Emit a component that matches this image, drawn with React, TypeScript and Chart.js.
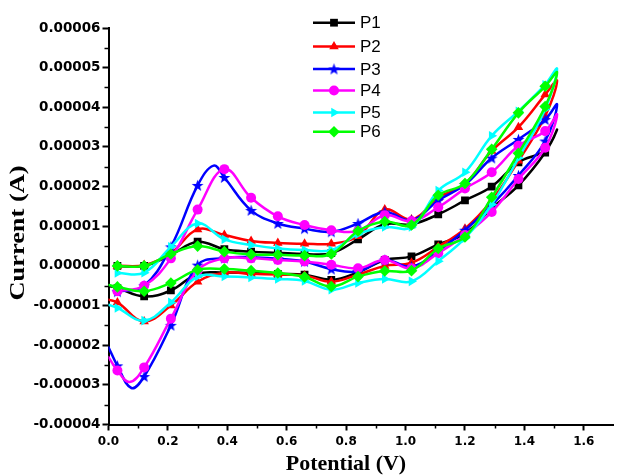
import React, { useEffect, useRef } from 'react';
import { Chart, registerables } from 'chart.js';

Chart.register(...registerables);

// ---------- data (current values in units of 1e-5 A) ----------
const UNIT = 1e-5;
const SERIES_NAMES = ['P1', 'P2', 'P3', 'P4', 'P5', 'P6'];
const COLORS = ['#000000', '#ff0000', '#0000ff', '#ff00ff', '#00ffff', '#00ff00'];

// potentials (V) where the markers sit, shared by every curve
const MARK_X = [0.03, 0.12, 0.21, 0.30, 0.39, 0.48, 0.57, 0.66, 0.75, 0.84, 0.93, 1.02, 1.11, 1.20, 1.29, 1.38, 1.47];
const START_X = 0.0;
const END_X = 1.51;

const X_TICKS = [0, 0.2, 0.4, 0.6, 0.8, 1.0, 1.2, 1.4, 1.6];
const X_MINOR = [0.1, 0.3, 0.5, 0.7, 0.9, 1.1, 1.3, 1.5];
const Y_TICKS = [-0.00004, -0.00003, -0.00002, -0.00001, 0, 0.00001, 0.00002, 0.00003, 0.00004, 0.00005, 0.00006];
const Y_MINOR = [-0.000035, -0.000025, -0.000015, -0.000005, 0.000005, 0.000015, 0.000025, 0.000035, 0.000045, 0.000055];

const X_TITLE = 'Potential (V)';
const Y_TITLE = 'Current (A)';

// forward (upper) branch at MARK_X, reverse (lower) branch at MARK_X
const P1_FWD = [0.0, 0.0, 0.28, 0.61, 0.42, 0.36, 0.33, 0.30, 0.32, 0.67, 1.05, 1.05, 1.30, 1.65, 2.00, 2.61, 2.92];
const P1_REV = [-0.56, -0.77, -0.62, -0.20, -0.17, -0.18, -0.20, -0.22, -0.35, -0.16, 0.15, 0.24, 0.54, 0.82, 1.45, 2.03, 2.86];
const P1_START = -0.50;
const P1_END = 3.44;

const P2_FWD = [0.0, 0.02, 0.32, 0.92, 0.78, 0.63, 0.58, 0.56, 0.56, 0.75, 1.42, 1.17, 1.72, 2.07, 2.90, 3.50, 4.32];
const P2_REV = [-0.92, -1.40, -1.00, -0.40, -0.17, -0.20, -0.22, -0.24, -0.40, -0.22, 0.00, 0.08, 0.48, 0.94, 1.65, 2.65, 3.78];
const P2_START = -0.85;
const P2_END = 4.67;

const P3_FWD = [-0.65, -0.50, 0.48, 2.03, 2.23, 1.40, 1.07, 0.94, 0.86, 1.07, 1.36, 1.15, 1.65, 2.05, 2.72, 3.19, 3.69];
const P3_REV = [-2.52, -2.79, -1.50, 0.02, 0.20, 0.22, 0.18, 0.11, -0.08, -0.14, 0.15, -0.02, 0.38, 0.90, 1.53, 2.28, 3.15];
const P3_START = -2.05;
const P3_END = 4.07;
const P3_FWD_PEAK = [0.354, 2.53];
const P3_REV_PEAK = [0.077, -3.08];

const P4_FWD = [-0.64, -0.50, 0.19, 1.42, 2.44, 1.72, 1.25, 1.03, 0.90, 0.88, 1.28, 1.13, 1.48, 1.95, 2.36, 3.03, 3.40];
const P4_REV = [-2.64, -2.56, -1.33, -0.12, 0.19, 0.19, 0.15, 0.11, 0.03, -0.06, 0.15, -0.06, 0.32, 0.78, 1.36, 2.19, 2.98];
const P4_START = -2.30;
const P4_END = 3.82;
const P4_REV_PEAK = [0.071, -2.93];

const P5_FWD = [-0.18, -0.17, 0.48, 1.07, 0.67, 0.53, 0.44, 0.40, 0.40, 0.80, 0.98, 0.98, 1.90, 2.36, 3.28, 3.90, 4.57];
const P5_REV = [-1.06, -1.38, -0.92, -0.27, -0.27, -0.29, -0.33, -0.38, -0.60, -0.43, -0.33, -0.39, 0.12, 0.70, 1.55, 2.72, 3.95];
const P5_START = -0.98;
const P5_END = 4.97;

const P6_FWD = [0.0, 0.0, 0.30, 0.50, 0.36, 0.29, 0.28, 0.26, 0.30, 0.88, 1.12, 1.03, 1.78, 2.08, 2.94, 3.86, 4.53];
const P6_REV = [-0.53, -0.64, -0.43, -0.10, -0.08, -0.12, -0.18, -0.28, -0.52, -0.27, -0.13, -0.12, 0.44, 0.73, 1.73, 2.84, 4.02];
const P6_START = -0.48;
const P6_END = 4.88;

type Pt = { x: number; y: number; m: boolean };

function buildLoop(start: number, rev: number[], end: number, fwd: number[], revExtra: number[][], fwdExtra: number[][]): Pt[] {
  const revPts: Pt[] = MARK_X.map((x, i) => ({ x, y: rev[i] * UNIT, m: true }));
  revExtra.forEach(([x, y]) => revPts.push({ x, y: y * UNIT, m: false }));
  revPts.sort((a, b) => a.x - b.x);
  const fwdPts: Pt[] = MARK_X.map((x, i) => ({ x, y: fwd[i] * UNIT, m: true }));
  fwdExtra.forEach(([x, y]) => fwdPts.push({ x, y: y * UNIT, m: false }));
  fwdPts.sort((a, b) => b.x - a.x);
  return [
    { x: START_X, y: start * UNIT, m: false },
    ...revPts,
    { x: END_X, y: end * UNIT, m: false },
    ...fwdPts,
  ];
}

const LOOPS = [
  buildLoop(P1_START, P1_REV, P1_END, P1_FWD, [], []),
  buildLoop(P2_START, P2_REV, P2_END, P2_FWD, [], []),
  buildLoop(P3_START, P3_REV, P3_END, P3_FWD, [P3_REV_PEAK], [P3_FWD_PEAK]),
  buildLoop(P4_START, P4_REV, P4_END, P4_FWD, [P4_REV_PEAK], []),
  buildLoop(P5_START, P5_REV, P5_END, P5_FWD, [], []),
  buildLoop(P6_START, P6_REV, P6_END, P6_FWD, [], []),
];

const MARKER_RADIUS = [5.5, 5.5, 6.5, 5, 5.5, 5.8];
const MARKER_ROT = [0, 0, 0, 0, 90, 0];

function makeStar(color: string, size: number): HTMLCanvasElement {
  const c = document.createElement('canvas');
  c.width = size;
  c.height = size;
  const g = c.getContext('2d')!;
  const cx = size / 2;
  const cy = size / 2 + 0.5;
  const R = size / 2 - 0.3;
  const r = R * 0.42;
  g.beginPath();
  for (let k = 0; k < 10; k++) {
    const ang = -Math.PI / 2 + (k * Math.PI) / 5;
    const rad = k % 2 === 0 ? R : r;
    const px = cx + rad * Math.cos(ang);
    const py = cy + rad * Math.sin(ang);
    if (k === 0) g.moveTo(px, py);
    else g.lineTo(px, py);
  }
  g.closePath();
  g.fillStyle = color;
  g.fill();
  return c;
}

function drawMarker(ctx: CanvasRenderingContext2D, style: any, x: number, y: number, r: number, rot: number, color: string) {
  ctx.save();
  ctx.fillStyle = color;
  ctx.translate(x, y);
  ctx.rotate((rot * Math.PI) / 180);
  ctx.beginPath();
  if (style instanceof HTMLCanvasElement) {
    ctx.drawImage(style, -style.width / 2, -style.height / 2);
    ctx.restore();
    return;
  }
  if (style === 'rect') {
    const s = r * Math.SQRT1_2;
    ctx.rect(-s, -s, 2 * s, 2 * s);
  } else if (style === 'circle') {
    ctx.arc(0, 0, r, 0, Math.PI * 2);
  } else if (style === 'triangle') {
    for (let k = 0; k < 3; k++) {
      const a = -Math.PI / 2 + (k * 2 * Math.PI) / 3;
      const px = r * Math.cos(a);
      const py = r * Math.sin(a);
      if (k === 0) ctx.moveTo(px, py);
      else ctx.lineTo(px, py);
    }
    ctx.closePath();
  } else if (style === 'rectRot') {
    ctx.moveTo(0, -r);
    ctx.lineTo(r, 0);
    ctx.lineTo(0, r);
    ctx.lineTo(-r, 0);
    ctx.closePath();
  }
  ctx.fill();
  ctx.restore();
}

const LEGEND_ROWS = [22.7, 46.5, 69, 90.5, 112.5, 131.7];

export default function App() {
  const ref = useRef<HTMLCanvasElement>(null);

  useEffect(() => {
    document.body.style.margin = '0';
    const star = makeStar(COLORS[2], 13);
    const styles: any[] = ['rect', 'triangle', star, 'circle', 'triangle', 'rectRot'];

    const extras = {
      id: 'cvExtras',
      afterDraw(chart: any) {
        const ctx: CanvasRenderingContext2D = chart.ctx;
        const xs = chart.scales.x;
        const ys = chart.scales.y;
        ctx.save();
        // minor ticks
        ctx.strokeStyle = '#000';
        ctx.lineWidth = 1.5;
        X_MINOR.forEach((v) => {
          const px = Math.round(xs.getPixelForValue(v)) + 0.5;
          ctx.beginPath();
          ctx.moveTo(px, ys.bottom);
          ctx.lineTo(px, ys.bottom + 4);
          ctx.stroke();
        });
        Y_MINOR.forEach((v) => {
          const py = Math.round(ys.getPixelForValue(v)) + 0.5;
          ctx.beginPath();
          ctx.moveTo(xs.left, py);
          ctx.lineTo(xs.left - 4, py);
          ctx.stroke();
        });
        // axis titles
        ctx.fillStyle = '#000';
        ctx.font = 'bold 22px "Liberation Serif", "Times New Roman", serif';
        ctx.textAlign = 'center';
        ctx.textBaseline = 'alphabetic';
        ctx.fillText(X_TITLE, 346, 470);
        ctx.save();
        ctx.translate(24, 233);
        ctx.rotate(-Math.PI / 2);
        ctx.scale(1.2, 1);
        ctx.fillText(Y_TITLE, 0, 0);
        ctx.restore();
        // legend
        ctx.font = '17px "Liberation Sans", Arial, sans-serif';
        ctx.textAlign = 'left';
        ctx.textBaseline = 'middle';
        SERIES_NAMES.forEach((name, i) => {
          const y = LEGEND_ROWS[i];
          ctx.strokeStyle = COLORS[i];
          ctx.lineWidth = 2.5;
          ctx.beginPath();
          ctx.moveTo(313, y);
          ctx.lineTo(355, y);
          ctx.stroke();
          drawMarker(ctx, styles[i], 334, y, MARKER_RADIUS[i], MARKER_ROT[i], COLORS[i]);
          ctx.fillStyle = '#000';
          ctx.fillText(name, 360, y + 1);
        });
        ctx.restore();
      },
    };

    const datasets = SERIES_NAMES.map((name, i) => ({
      label: name,
      data: LOOPS[i],
      showLine: true,
      borderColor: COLORS[i],
      backgroundColor: COLORS[i],
      borderWidth: 2.5,
      tension: 0.4,
      pointStyle: styles[i],
      pointRotation: MARKER_ROT[i],
      pointRadius: (c: any) => (c.raw && c.raw.m ? MARKER_RADIUS[i] : 0),
      pointBorderWidth: 0,
      pointBackgroundColor: COLORS[i],
      pointBorderColor: COLORS[i],
      order: SERIES_NAMES.length - 1 - i,
    }));

    const chart = new Chart(ref.current!, {
      type: 'scatter',
      data: { datasets } as any,
      plugins: [extras],
      options: {
        responsive: false,
        animation: false,
        devicePixelRatio: 1,
        layout: { padding: { top: 28, left: 0, right: 0, bottom: 0 } },
        plugins: {
          legend: { display: false },
          tooltip: { enabled: false },
          title: { display: false },
        },
        elements: {
          line: { borderCapStyle: 'round', borderJoinStyle: 'round' },
        },
        scales: {
          x: {
            type: 'linear',
            min: 0,
            max: 1.7,
            afterBuildTicks: (s: any) => {
              s.ticks = X_TICKS.map((v) => ({ value: v }));
            },
            afterFit: (s: any) => {
              s.height = 50.5;
            },
            ticks: {
              callback: (v: any) => Number(v).toFixed(1),
              font: { family: '"DejaVu Sans", Verdana, sans-serif', weight: 'bold', size: 12 },
              color: '#000',
              padding: 4,
              maxRotation: 0,
              autoSkip: false,
            },
            grid: { drawOnChartArea: false, drawTicks: true, tickLength: 6, tickWidth: 2, tickColor: '#000' },
            border: { display: true, color: '#000', width: 2 },
          },
          y: {
            type: 'linear',
            min: -0.00004,
            max: 0.00006,
            afterBuildTicks: (s: any) => {
              s.ticks = Y_TICKS.map((v) => ({ value: v }));
            },
            afterFit: (s: any) => {
              s.width = 108.5;
            },
            ticks: {
              callback: (v: any) => Number(v).toFixed(5),
              font: { family: '"DejaVu Sans", Verdana, sans-serif', weight: 'bold', size: 13.5 },
              color: '#000',
              padding: 2,
              autoSkip: false,
            },
            grid: { drawOnChartArea: false, drawTicks: true, tickLength: 6, tickWidth: 2, tickColor: '#000' },
            border: { display: true, color: '#000', width: 2 },
          },
        },
      } as any,
    });
    return () => chart.destroy();
  }, []);

  return (
    <div style={{ width: 620, height: 475 }}>
      <canvas ref={ref} width={620} height={475} style={{ display: 'block' }} />
    </div>
  );
}
